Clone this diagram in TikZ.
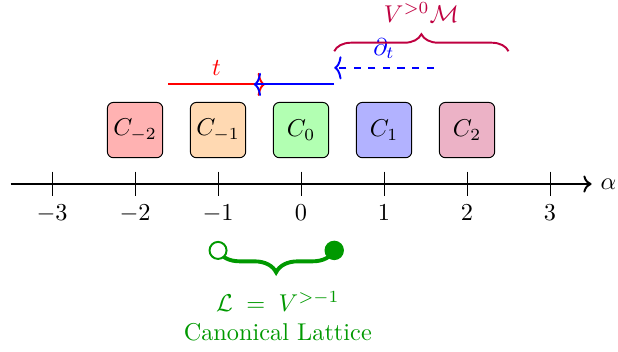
\documentclass[tikz,border=0pt]{standalone}
\usepackage{amsmath,amssymb}
\usepackage{tikz}
\usetikzlibrary{arrows.meta,positioning,calc,decorations.pathreplacing}
\definecolor{latgreen}{HTML}{009900}
\definecolor{bracepurple}{HTML}{BF0040}
\tikzset{
  cellbox/.style={draw=black,line width=0.4pt,rounded corners=2.5pt,
                  minimum size=0.8cm,inner sep=2pt},
  axisarr/.style={->,thick},
  tickline/.style={line width=0.4pt},
  flowarr/.style={-{To[length=3pt,width=9.5pt]},thick},
  upbrace/.style={decorate,decoration={brace,amplitude=7pt},thick},
  downbrace/.style={decorate,decoration={brace,mirror,amplitude=9pt},ultra thick},
  opendot/.style={circle,draw=latgreen,fill=white,thick,inner sep=0pt,minimum size=7pt},
  fulldot/.style={circle,fill=latgreen,inner sep=0pt,minimum size=8pt}
}

\begin{document}
\begin{tikzpicture}[x=1.2cm,y=1.2cm]
  \useasboundingbox (-3.627,-2.024) rectangle (3.819,2.217);
  % axis and ticks
  \coordinate (axl) at (-3.5,0);
  \coordinate (axr) at (3.5,0);
  \draw[axisarr] (axl) -- (axr) node[right] (alpha) {$\alpha$};
  \foreach \k in {-3,...,3}
    \draw[tickline] (\k,0.15) -- (\k,-0.15) node[below] (tick\k) {$\k$};
  % cells
  \foreach \k/\c in {-2/red,-1/orange,0/green,1/blue,2/purple}
    \node[cellbox,fill=\c!30] (cell\k) at (\k,0.65) {$C_{\k}$};
  % flows
  \coordinate (tl) at (-1.6,1.2);
  \coordinate (tr) at (-0.435,1.2);
  \coordinate (bl) at (-0.57,1.2);
  \coordinate (br) at (0.4,1.2);
  \draw[flowarr,red] (tl) -- (tr) node[midway,above] (tlab) {$t$};
  \draw[flowarr,blue] (br) -- (bl);
  \coordinate (dr) at (1.6,1.4);
  \coordinate (dl) at (0.4,1.4);
  \draw[flowarr,blue,dashed] (dr) -- (dl) node[midway,above] (dlab) {$\partial_t$};
  % positive part
  \coordinate (pl) at (0.4,1.6);
  \coordinate (pr) at (2.5,1.6);
  \draw[upbrace,bracepurple] (pl) -- (pr);
  \node[bracepurple] (plab) at (1.45,2.07) {$V^{>0}\mathcal{M}$};
  % lattice
  \coordinate (ll) at (-1,-0.8);
  \coordinate (lr) at (0.4,-0.8);
  \draw[downbrace,latgreen] (ll) -- (lr);
  \node[opendot] (lopen) at (ll) {};
  \node[fulldot] (lfull) at (lr) {};
  \node[latgreen,align=center] (llab) at (-0.28,-1.59)
    {$\mathcal{L}\;=\;V^{>-1}$\\Canonical Lattice};
\end{tikzpicture}
\end{document}
